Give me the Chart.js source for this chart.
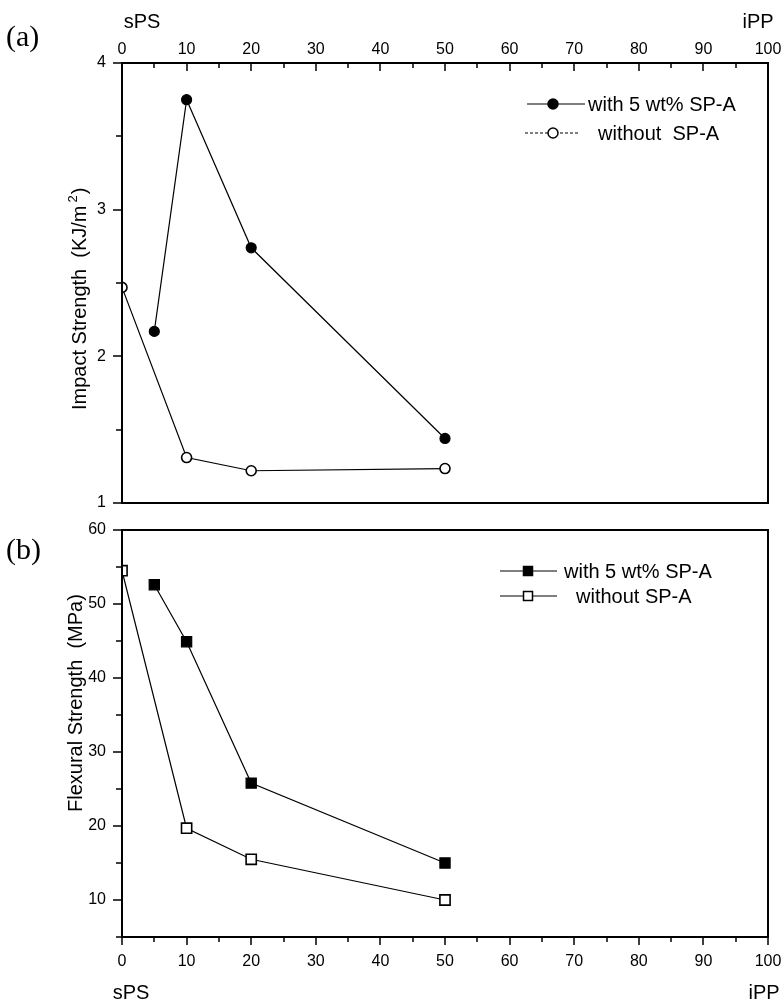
<!DOCTYPE html>
<html><head><meta charset="utf-8">
<script src="https://cdn.jsdelivr.net/npm/chart.js@4.4.1/dist/chart.umd.min.js"></script>
<style>
html,body{margin:0;padding:0;background:#fff;}
#wrap{position:relative;width:783px;height:1001px;overflow:hidden;background:#fff;}
canvas{position:absolute;left:0;}
</style></head><body>
<div id="wrap">
<canvas id="ca" width="783" height="520" style="top:0;width:783px;height:520px"></canvas>
<canvas id="cb" width="783" height="496" style="top:505px;width:783px;height:496px"></canvas>
</div>
<script>
// ---- data ----
const xWith = [5, 10, 20, 50];
const xWithout = [0, 10, 20, 50];
const impactWith = [2.17, 3.75, 2.74, 1.44];
const impactWithout = [2.47, 1.31, 1.22, 1.235];
const flexWith = [52.6, 44.9, 25.8, 15.0];
const flexWithout = [54.5, 19.7, 15.5, 10.0];
// ---- ticks ----
const xTicks = [0, 10, 20, 30, 40, 50, 60, 70, 80, 90, 100];
const xMinor = [5, 15, 25, 35, 45, 55, 65, 75, 85, 95];
const impactTicks = [1, 2, 3, 4];
const impactMinor = [1.5, 2.5, 3.5];
const flexTicks = [10, 20, 30, 40, 50, 60];
const flexMinor = [5, 15, 25, 35, 45, 55];
const seriesNames = ['with 5 wt% SP-A', 'without  SP-A', 'without SP-A'];

const SANS = '"Liberation Sans", Arial, Helvetica, sans-serif';
const SERIF = '"Liberation Serif", "Times New Roman", serif';

function pts(xs, ys) { return xs.map((x, i) => ({x: x, y: ys[i]})); }

function drawMarker(ctx, style, filled, cx, cy, r) {
  ctx.save();
  ctx.lineWidth = 1.5; ctx.strokeStyle = '#000'; ctx.fillStyle = filled ? '#000' : '#fff';
  ctx.beginPath();
  if (style === 'circle') ctx.arc(cx, cy, r, 0, Math.PI * 2);
  else ctx.rect(cx - r, cy - r, 2 * r, 2 * r);
  ctx.fill(); ctx.stroke();
  ctx.restore();
}

function makePlugin(cfg) {
  return {
    id: 'deco',
    afterDraw(chart) {
      const ctx = chart.ctx, a = chart.chartArea, xs = chart.scales.x, ys = chart.scales.y;
      const oy = cfg.offsetY;
      ctx.save();
      ctx.strokeStyle = '#000';
      ctx.lineWidth = 2;
      ctx.strokeRect(a.left, a.top, a.right - a.left, a.bottom - a.top);
      ctx.lineWidth = 1.5;
      ctx.beginPath();
      // y ticks (outward, left)
      cfg.yMajor.forEach(v => { const p = Math.round(ys.getPixelForValue(v)); ctx.moveTo(a.left - 9, p); ctx.lineTo(a.left, p); });
      cfg.yMinor.forEach(v => { const p = Math.round(ys.getPixelForValue(v)); ctx.moveTo(a.left - 6, p); ctx.lineTo(a.left, p); });
      // x ticks (top: inward; bottom: outward)
      const edge = cfg.xTop ? a.top : a.bottom;
      xTicks.forEach(v => { const p = Math.round(xs.getPixelForValue(v)); ctx.moveTo(p, edge); ctx.lineTo(p, edge + 8); });
      xMinor.forEach(v => { const p = Math.round(xs.getPixelForValue(v)); ctx.moveTo(p, edge); ctx.lineTo(p, edge + 5); });
      ctx.stroke();
      // texts
      ctx.fillStyle = '#000';
      ctx.textBaseline = 'alphabetic';
      ctx.font = '30px ' + SERIF; ctx.textAlign = 'left';
      ctx.fillText(cfg.panel, 6, cfg.panelY - oy);
      ctx.font = '20px ' + SANS; ctx.textAlign = 'center';
      ctx.fillText('sPS', cfg.spsX, cfg.endY - oy);
      ctx.fillText('iPP', cfg.ippX, cfg.endY - oy);
      // y title
      ctx.save();
      ctx.translate(cfg.titleX, cfg.titleStart - oy);
      ctx.rotate(-Math.PI / 2);
      ctx.textAlign = 'left';
      ctx.font = '20px ' + SANS;
      ctx.fillText(cfg.title, 0, 0);
      let w = ctx.measureText(cfg.title).width;
      if (cfg.sup) {
        ctx.font = '13px ' + SANS;
        ctx.fillText(cfg.sup, w + 3, -9);
        w += ctx.measureText(cfg.sup).width + 4;
        ctx.font = '20px ' + SANS;
        ctx.fillText(cfg.titleEnd, w, 0);
      }
      ctx.restore();
      // legend
      ctx.font = '20px ' + SANS; ctx.textAlign = 'left'; ctx.textBaseline = 'middle';
      cfg.legend.forEach(it => {
        const y = it.y - oy;
        ctx.save();
        ctx.lineWidth = 1.2;
        ctx.setLineDash(it.dash || []);
        ctx.beginPath(); ctx.moveTo(it.x0, y); ctx.lineTo(it.x1, y); ctx.stroke();
        ctx.restore();
        drawMarker(ctx, it.style, it.filled, it.mx, y, it.r);
        ctx.fillStyle = '#000';
        ctx.fillText(it.text, it.tx, y + 1);
      });
      ctx.restore();
    }
  };
}

function axisFont() { return {family: SANS, size: 16}; }
function zeroPad(s) { s.paddingLeft = 0; s.paddingRight = 0; s.paddingTop = 0; s.paddingBottom = 0; }

function buildChart(id, opt) {
  const circle = opt.style === 'circle';
  return new Chart(document.getElementById(id), {
    type: 'scatter',
    data: {
      datasets: [
        {label: seriesNames[0], data: pts(xWith, opt.withVals), showLine: true, borderColor: '#000', borderWidth: 1.2,
         pointStyle: circle ? 'circle' : 'rect', pointRadius: circle ? 5 : 7.2,
         pointBackgroundColor: '#000', pointBorderColor: '#000', pointBorderWidth: 1.2, tension: 0},
        {label: opt.withoutName, data: pts(xWithout, opt.withoutVals), showLine: true, borderColor: '#000', borderWidth: 1.2,
         pointStyle: circle ? 'circle' : 'rect', pointRadius: circle ? 5 : 7.2,
         pointBackgroundColor: '#fff', pointBorderColor: '#000', pointBorderWidth: 1.6, tension: 0}
      ]
    },
    options: {
      responsive: false, maintainAspectRatio: false, animation: false, devicePixelRatio: 1,
      layout: {padding: opt.padding, autoPadding: false},
      plugins: {legend: {display: false}, tooltip: {enabled: false}, title: {display: false}},
      scales: {
        x: {type: 'linear', position: opt.xPos, min: 0, max: 100, offset: false,
            grid: {display: false, drawTicks: false}, border: {display: false},
            afterBuildTicks: s => { s.ticks = xTicks.map(v => ({value: v})); },
            ticks: {font: axisFont(), color: '#000', padding: opt.xPad, maxRotation: 0, minRotation: 0, autoSkip: false},
            afterFit: s => { s.height = opt.xH; zeroPad(s); }},
        y: {type: 'linear', min: opt.yMin, max: opt.yMax,
            grid: {display: false, drawTicks: false}, border: {display: false},
            afterBuildTicks: s => { s.ticks = opt.yTicks.map(v => ({value: v})); },
            ticks: {font: axisFont(), color: '#000', padding: 16},
            afterFit: s => { s.width = 122; zeroPad(s); }}
      }
    },
    plugins: [makePlugin(opt.deco)]
  });
}

buildChart('ca', {
  withVals: impactWith, withoutVals: impactWithout, withoutName: seriesNames[1], style: 'circle',
  padding: {top: 0, right: 15, bottom: 17, left: 0}, xPos: 'top', xPad: 4, xH: 63,
  yMin: 1, yMax: 4, yTicks: impactTicks,
  deco: {offsetY: 0, xTop: true, yMajor: impactTicks, yMinor: impactMinor, panel: '(a)', panelY: 46,
         spsX: 142, ippX: 758, endY: 28, titleX: 86, titleStart: 410, title: 'Impact Strength  (KJ/m', sup: '2', titleEnd: ')',
         legend: [
           {y: 104, x0: 527, x1: 585, mx: 553, r: 5, style: 'circle', filled: true, text: seriesNames[0], tx: 588},
           {y: 133, x0: 525, x1: 580, mx: 553, r: 5, style: 'circle', filled: false, dash: [3, 2], text: seriesNames[1], tx: 598}
         ]}
});

buildChart('cb', {
  withVals: flexWith, withoutVals: flexWithout, withoutName: seriesNames[2], style: 'rect',
  padding: {top: 25, right: 15, bottom: 0, left: 0}, xPos: 'bottom', xPad: 15, xH: 64,
  yMin: 5, yMax: 60, yTicks: flexTicks,
  deco: {offsetY: 505, xTop: false, yMajor: flexTicks, yMinor: flexMinor, panel: '(b)', panelY: 559,
         spsX: 131, ippX: 764, endY: 999, titleX: 82, titleStart: 812, title: 'Flexural Strength  (MPa)', sup: null, titleEnd: '',
         legend: [
           {y: 571, x0: 500, x1: 557, mx: 528, r: 4.5, style: 'rect', filled: true, text: seriesNames[0], tx: 564},
           {y: 596, x0: 500, x1: 557, mx: 528, r: 4.5, style: 'rect', filled: false, text: seriesNames[2], tx: 576}
         ]}
});
</script>
</body></html>
